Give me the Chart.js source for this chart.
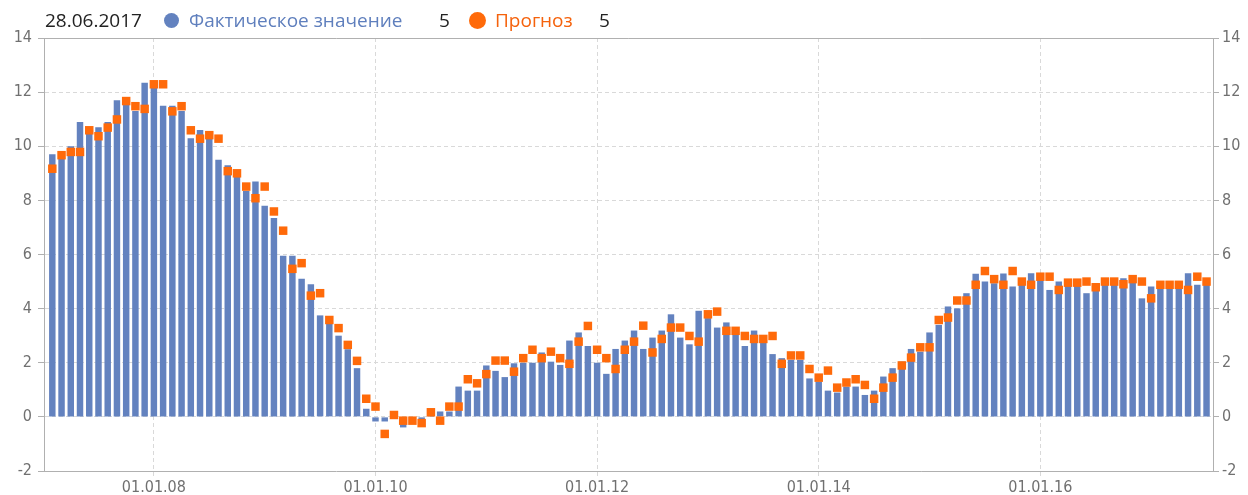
<!DOCTYPE html>
<html>
<head>
<meta charset="utf-8">
<script src="https://cdn.jsdelivr.net/npm/chart.js@4.4.1/dist/chart.umd.min.js"></script>
<style>
  html, body { margin: 0; padding: 0; background: #ffffff; }
  #wrap { position: relative; width: 1248px; height: 495px; }
  #legend span { position: absolute; top: 6px; font-family: "Open Sans"; font-size: 19px; line-height: 28px; white-space: nowrap; }
  #legend .dot { border-radius: 50%; top: 13px; }
</style>
</head>
<body>
<div id="wrap">
  <canvas id="chart" width="1248" height="495"></canvas>
  <div id="legend">
    <span style="left:45px;color:#222222">28.06.2017</span>
    <span class="dot" style="left:164px;width:15px;height:15px;background:#6382bf"></span>
    <span style="left:189px;color:#5f7fbd">Фактическое значение</span>
    <span style="left:439px;color:#222222">5</span>
    <span class="dot" style="left:469px;top:12px;width:17px;height:17px;background:#ff6a0a"></span>
    <span style="left:495px;color:#f5620c">Прогноз</span>
    <span style="left:599px;color:#222222">5</span>
  </div>
</div>
<script>
// monthly values, Feb 2007 .. Jul 2017
const actual = [
  9.7, 9.55, 10.0, 10.9, 10.45, 10.7, 10.9, 11.7, 11.55, 11.3, 12.35,
  12.15, 11.5, 11.5, 11.3, 10.3, 10.6, 10.45, 9.5, 9.3, 8.95, 8.35, 8.7,
  7.8, 7.35, 5.95, 5.95, 5.1, 4.9, 3.75, 3.5, 3.0, 2.5, 1.8, 0.3,
  -0.17, -0.17, 0.0, -0.39, -0.1, -0.1, 0.05, 0.2, 0.2, 1.12, 0.97, 0.97,
  1.9, 1.7, 1.47, 1.98, 2.0, 2.0, 2.38, 2.04, 1.92, 2.82, 3.12, 2.62,
  2.0, 1.59, 2.51, 2.82, 3.19, 2.51, 2.93, 3.19, 3.79, 2.93, 2.68, 3.92,
  3.65, 3.3, 3.49, 3.09, 2.62, 3.19, 2.84, 2.32, 2.17, 2.11, 2.11, 1.42,
  1.31, 0.97, 0.9, 1.12, 1.12, 0.81, 0.97, 1.49, 1.8, 2.04, 2.51, 2.41,
  3.12, 3.4, 4.08, 4.01, 4.57, 5.29, 5.0, 4.94, 5.3, 4.82, 4.88, 5.31,
  5.06, 4.69, 5.0, 5.06, 5.06, 4.57, 4.75, 5.0, 5.0, 5.12, 5.0, 4.38,
  4.82, 4.94, 4.94, 4.94, 5.31, 4.88, 4.94
];
const forecast = [
  9.17, 9.67, 9.79, 9.79, 10.59, 10.37, 10.69, 10.99, 11.67, 11.48, 11.38,
  12.29, 12.29, 11.29, 11.48, 10.59, 10.28, 10.41, 10.28, 9.08, 9.0, 8.51, 8.08,
  8.51, 7.59, 6.88, 5.47, 5.68, 4.48, 4.57, 3.58, 3.28, 2.66, 2.07, 0.67,
  0.38, -0.63, 0.07, -0.14, -0.14, -0.23, 0.17, -0.14, 0.38, 0.38, 1.39, 1.24,
  1.58, 2.08, 2.08, 1.67, 2.17, 2.48, 2.17, 2.41, 2.17, 1.96, 2.78, 3.36,
  2.48, 2.17, 1.77, 2.48, 2.78, 3.37, 2.38, 2.88, 3.3, 3.3, 2.99, 2.78,
  3.79, 3.89, 3.18, 3.18, 2.99, 2.88, 2.88, 2.99, 1.96, 2.27, 2.27, 1.77,
  1.45, 1.71, 1.08, 1.27, 1.39, 1.18, 0.67, 1.08, 1.45, 1.9, 2.19, 2.57,
  2.57, 3.58, 3.67, 4.3, 4.3, 4.88, 5.39, 5.09, 4.88, 5.39, 5.0, 4.88,
  5.18, 5.18, 4.69, 4.96, 4.96, 5.0, 4.79, 5.0, 5.0, 4.9, 5.09, 5.0,
  4.38, 4.88, 4.88, 4.88, 4.69, 5.18, 5.0
];
// month index of each x tick and its label
const xTickPos = [11, 35, 59, 83, 107];
const xTickLabels = ["01.01.08", "01.01.10", "01.01.12", "01.01.14", "01.01.16"];

const gridColor = "#d9d9d9";
const axisColor = "#b0b0b0";
const tickFont = { family: "DejaVu Sans Condensed", size: 16 };
const tickColor = "#707070";

const topLine = {
  id: "topLine",
  afterDraw(chart) {
    const { ctx, chartArea } = chart;
    ctx.save();
    ctx.strokeStyle = axisColor;
    ctx.lineWidth = 1;
    ctx.beginPath();
    ctx.moveTo(chartArea.left, chartArea.top + 0.5);
    ctx.lineTo(chartArea.right, chartArea.top + 0.5);
    ctx.stroke();
    ctx.restore();
  }
};

new Chart(document.getElementById("chart").getContext("2d"), {
  type: "bar",
  data: {
    datasets: [
      {
        type: "line",
        label: "Прогноз",
        data: forecast.map((v, i) => ({ x: i, y: v })),
        showLine: false,
        pointStyle: "rect",
        pointRadius: 6,
        pointBorderWidth: 0,
        pointBackgroundColor: "#ff6a0a",
        order: 0
      },
      {
        label: "Фактическое значение",
        data: actual.map((v, i) => ({ x: i, y: v })),
        backgroundColor: "#6382bf",
        barPercentage: 0.7,
        categoryPercentage: 1,
        order: 1
      }
    ]
  },
  options: {
    responsive: false,
    animation: false,
    devicePixelRatio: 1,
    layout: { padding: { top: 38, left: 0, right: 0, bottom: 0 } },
    plugins: { legend: { display: false }, tooltip: { enabled: false } },
    scales: {
      x: {
        type: "linear",
        offset: false,
        min: -0.9,
        max: 125.7,
        afterBuildTicks: (s) => { s.ticks = xTickPos.map((v) => ({ value: v })); },
        afterFit: (s) => { s.height = 24; },
        ticks: {
          autoSkip: false,
          maxRotation: 0,
          padding: 2,
          color: tickColor,
          font: tickFont,
          callback: (v, i) => xTickLabels[i]
        },
        grid: { offset: false, color: gridColor, tickLength: 5, tickBorderDash: [4, 3] },
        border: { color: axisColor, dash: [4, 3] }
      },
      y: {
        position: "left",
        min: -2,
        max: 14,
        afterFit: (s) => { s.width = 44; },
        ticks: { stepSize: 2, padding: 6, color: tickColor, font: tickFont },
        grid: { color: gridColor, tickColor: axisColor, tickLength: 6 },
        border: { color: axisColor, dash: [4, 3] }
      },
      y2: {
        position: "right",
        min: -2,
        max: 14,
        afterFit: (s) => { s.width = 35; },
        ticks: { stepSize: 2, padding: 3, color: tickColor, font: tickFont },
        grid: { drawOnChartArea: false, tickColor: axisColor, tickLength: 6 },
        border: { color: axisColor }
      }
    }
  },
  plugins: [topLine]
});
</script>
</body>
</html>
